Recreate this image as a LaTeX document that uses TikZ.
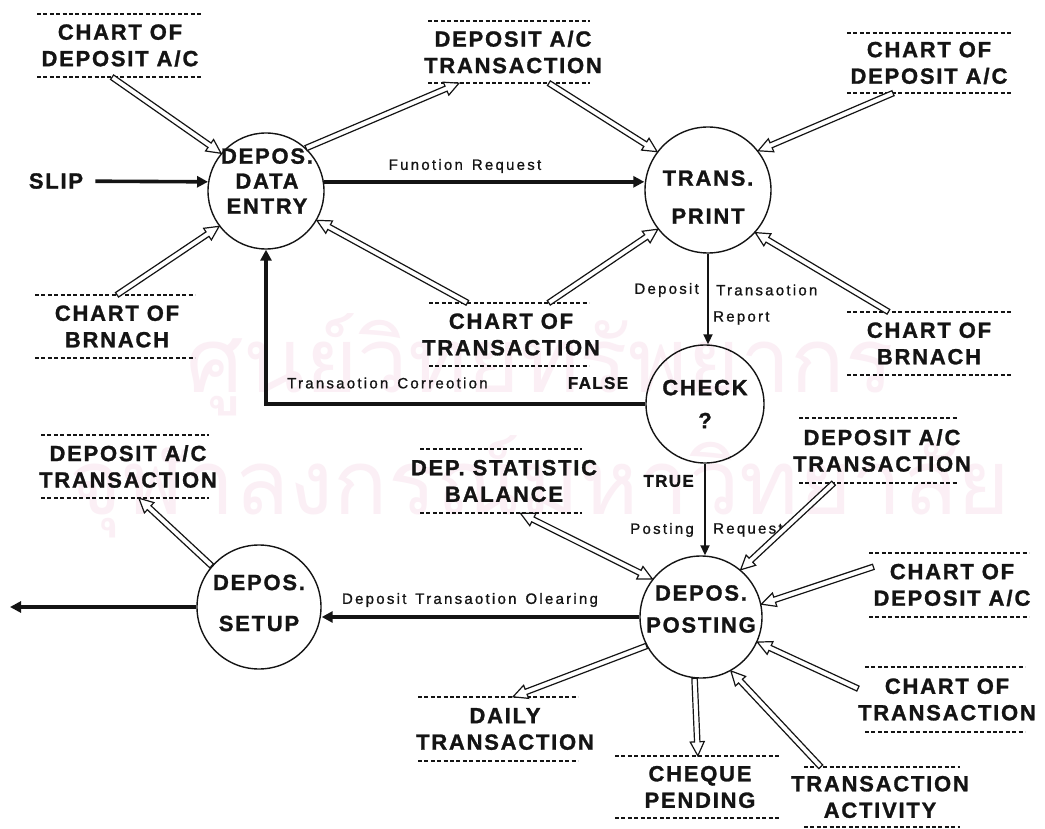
\documentclass[tikz,border=0pt]{standalone}
\usepackage{fontspec}
\setmainfont{Liberation Sans}
\newfontfamily\lblfont{Liberation Sans}[LetterSpace=8,FakeBold=1.2]
\newfontfamily\smallfont{Liberation Sans}[LetterSpace=15,WordSpace=1.4,FakeBold=1]
\newfontfamily\thaifont[Script=Thai]{Loma}
\usetikzlibrary{arrows.meta,calc}

\definecolor{ink}{RGB}{20,20,20}
\definecolor{wmark}{RGB}{251,239,245}

% wide slash in account codes
\newcommand\AC{A\kern2pt/\kern2pt C}

\tikzset{
  proc/.style={circle, draw=ink, line width=1.4pt, inner sep=0pt, minimum size=#1},
  proctext/.style={align=center, inner sep=0pt, text=ink,
    font=\lblfont\bfseries\fontsize{22}{#1}\selectfont},
  store/.style={align=center, inner sep=0pt, text=ink,
    font=\lblfont\bfseries\fontsize{22}{26.5}\selectfont},
  dotln/.style={draw=ink, line width=1.6pt, dash pattern=on 4pt off 2.4pt},
  note/.style={inner sep=0pt, text=ink, font=\smallfont\fontsize{15}{18}\selectfont},
  flag/.style={inner sep=0pt, text=ink, font=\lblfont\bfseries\fontsize{17}{20}\selectfont},
  flow/.style={draw=ink, line width=3.6pt, -{Triangle[length=11pt,width=11pt]}},
  thinflow/.style={draw=ink, line width=2pt, -{Triangle[length=10pt,width=9pt]}},
  hollow/.style={draw=ink, line width=1.2pt, fill=white, line join=miter},
}

% outlined (double-line) data-flow arrow from #1 to #2
\newcommand\harrow[2]{%
  \coordinate (ha) at (#1);
  \coordinate (hb) at (#2);
  \coordinate (hk) at ($(hb)!14pt!(ha)$);
  \draw[hollow] ($(ha)!2.7pt!90:(hb)$) -- ($(hk)!2.7pt!-90:(ha)$)
    -- ($(hk)!7pt!-90:(ha)$) -- (hb) -- ($(hk)!7pt!90:(ha)$)
    -- ($(hk)!2.7pt!90:(ha)$) -- ($(ha)!2.7pt!-90:(hb)$) -- cycle;}

% outlined arrow with heads at both ends
\newcommand\dharrow[2]{%
  \coordinate (ha) at (#1);
  \coordinate (hb) at (#2);
  \coordinate (hk) at ($(hb)!14pt!(ha)$);
  \coordinate (hj) at ($(ha)!14pt!(hb)$);
  \draw[hollow] (ha) -- ($(hj)!7pt!90:(hb)$) -- ($(hj)!2.7pt!90:(hb)$)
    -- ($(hk)!2.7pt!-90:(ha)$) -- ($(hk)!7pt!-90:(ha)$) -- (hb)
    -- ($(hk)!7pt!90:(ha)$) -- ($(hk)!2.7pt!90:(ha)$)
    -- ($(hj)!2.7pt!-90:(hb)$) -- ($(hj)!7pt!-90:(hb)$) -- cycle;}

\begin{document}
\begin{tikzpicture}[x=1pt, y=-1pt]
\fill[white] (0,0) rectangle (1045,829);
\useasboundingbox (0,0) rectangle (1045,829);

% faint library stamp behind the chart
\node[text=wmark, inner sep=0pt, font=\thaifont\fontsize{90}{100}\selectfont, anchor=base]
  (wm1) at (540,392) {ศูนย์วิทยทรัพยากร};
\node[text=wmark, inner sep=0pt, font=\thaifont\fontsize{90}{100}\selectfont, anchor=base]
  (wm2) at (540,514) {จุฬาลงกรณ์มหาวิทยาลัย};

% processes
\node[proc=116pt] (de) at (266,191) {};
\node[proc=126pt] (tp) at (708,190) {};
\node[proc=118pt] (ck) at (705,404) {};
\node[proc=122pt] (po) at (701,617) {};
\node[proc=124pt] (su) at (259,607) {};

\node[proctext=25pt] (de-t) at (267,181) {DEPOS.\\DATA\\ENTRY};
\node[proctext=38pt] (tp-t) at (708,197) {TRANS.\\PRINT};
\node[proctext=33pt] (ck-t) at (705,404) {CHECK\\?};
\node[proctext=32pt] (po-t) at (701,609) {DEPOS.\\POSTING};
\node[proctext=41pt] (su-t) at (259,603) {DEPOS.\\SETUP};

% data stores
\node[store, minimum height=63pt] (s1)  at (120,45.5)  {CHART OF\\DEPOSIT \AC};
\node[store, minimum height=62pt] (s2)  at (513,52)    {DEPOSIT \AC\\TRANSACTION};
\node[store, minimum height=60pt] (s3)  at (929,63)    {CHART OF\\DEPOSIT \AC};
\node[store, minimum height=63pt] (s4)  at (117,326.5) {CHART OF\\BRNACH};
\node[store, minimum height=63pt] (s5)  at (511,334.5) {CHART OF\\TRANSACTION};
\node[store, minimum height=63pt] (s6)  at (929,343.5) {CHART OF\\BRNACH};
\node[store, minimum height=63pt] (s7)  at (128,466.5) {DEPOSIT \AC\\TRANSACTION};
\node[store, minimum height=64pt] (s8)  at (504,481)   {DEP. STATISTIC\\BALANCE};
\node[store, minimum height=65pt] (s9)  at (882,450.5) {DEPOSIT \AC\\TRANSACTION};
\node[store, minimum height=64pt] (s10) at (952,585)   {CHART OF\\DEPOSIT \AC};
\node[store, minimum height=65pt] (s11) at (947,699.5) {CHART OF\\TRANSACTION};
\node[store, minimum height=64pt] (s12) at (505,729)   {DAILY\\TRANSACTION};
\node[store, minimum height=62pt] (s13) at (700,787)   {CHEQUE\\PENDING};
\node[store, minimum height=60pt] (s14) at (880,797)   {TRANSACTION\\ACTIVITY};

\foreach \s/\w/\d in {s1/83/0, s2/81/-4, s3/82/0, s4/80/-2, s5/80/-2, s6/82/0,
                      s7/84/-3, s8/81/-3, s9/79/-4, s10/80/-3, s11/80/-2,
                      s12/80/-7, s13/82/-3, s14/78/2}
  \draw[dotln] ($(\s.north)+({\d-\w},0)$) -- ++({2*\w},0)
               ($(\s.south)+({\d-\w},0)$) -- ++({2*\w},0);

% external entity
\node[store] (slip) at (56,181) {SLIP};
\coordinate (exit) at (10,607);

% flow labels
\node[note] (fr) at (465,166) {Funotion Request};
\node[note, anchor=east] (dt1) at (699,290) {Deposit};
\node[note, anchor=west] (dt2) at (716,290) {Transaotion};
\node[note, anchor=west] (dt3) at (713,318) {Report};
\node[note, anchor=west] (tc) at (287,383) {Transaotion Correotion};
\node[flag] (fl) at (598,383) {FALSE};
\node[flag, anchor=east] (tr) at (694,481) {TRUE};
\node[note, anchor=east] (pr1) at (694,530) {Posting};
\node[note, anchor=west] (pr2) at (713,530) {Request};
\node[note] (dc) at (470,600) {Deposit Transaotion Olearing};

% control flows
\draw[flow, shorten <=12pt] (slip) -- (de.171);
\draw[flow] (de.9) -- (de.9 -| tp.west);
\draw[thinflow] (tp.south) -- (tp.south |- ck.north);
\draw[thinflow] (ck.south) -- (ck.south |- po.north);
\draw[flow, line width=3.2pt] (ck.west) -- (ck.west -| de.south) -- (de.south);
\draw[flow] (po.west) -- (po.west -| su.east);
\draw[flow] (su.west) -- (su.west -| exit);

% data flows
\harrow{s1.-104}{de.140}
\harrow{de.47}{s2.-150}
\harrow{s2.-41}{tp.143}
\harrow{s3.-140}{tp.38}
\harrow{s6.142}{tp.-42}
\harrow{s5.40}{tp.-142}
\harrow{s5.144}{de.-30}
\harrow{s4.north}{de.-143}
\harrow{su.139}{s7.-71}
\dharrow{s8.-63}{po.142}
\harrow{s9.-146}{po.50}
\harrow{s10.167}{po.12}
\harrow{s11.173}{po.-24}
\harrow{s14.153}{po.-61}
\harrow{po.-96}{s13.94}
\harrow{po.-152}{s12.76}
\end{tikzpicture}
\end{document}
